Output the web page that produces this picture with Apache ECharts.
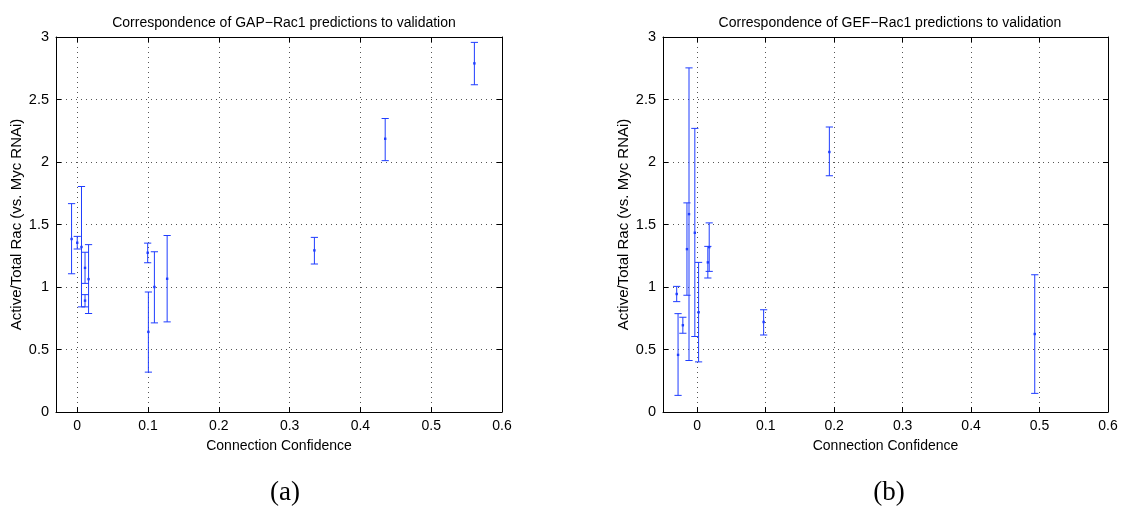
<!DOCTYPE html>
<html>
<head>
<meta charset="utf-8">
<script src="https://cdn.jsdelivr.net/npm/echarts@6/dist/echarts.min.js"></script>
<style>
html,body{margin:0;padding:0;background:#fff;}
#chart{width:1122px;height:510px;}
</style>
</head>
<body>
<div id="chart"></div>
<script>
// ---- Data ----
const gapTitle = 'Correspondence of GAP\u2212Rac1 predictions to validation';
const gefTitle = 'Correspondence of GEF\u2212Rac1 predictions to validation';
const xName = 'Connection Confidence';
const yName = 'Active/Total Rac (vs. Myc RNAi)';
const panelLabels = ['(a)', '(b)'];

const gapX    = [-0.008, 0.000, 0.006, 0.011, 0.011, 0.016, 0.0995, 0.1005, 0.109, 0.127, 0.335, 0.435, 0.561];
const gapY    = [ 1.384, 1.354, 1.320, 1.153, 0.891, 1.063, 1.274, 0.641, 1.000, 1.066, 1.293, 2.186, 2.789];
const gapLow  = [ 1.106, 1.304, 0.841, 1.029, 0.841, 0.788, 1.194, 0.319, 0.713, 0.721, 1.184, 2.011, 2.618];
const gapHigh = [ 1.667, 1.405, 1.804, 1.278, 0.939, 1.339, 1.351, 0.960, 1.282, 1.412, 1.397, 2.348, 2.957];

const gefX    = [-0.030, -0.028, -0.021, -0.015, -0.012, -0.0035, 0.002, 0.0155, 0.0175, 0.097, 0.193, 0.493];
const gefY    = [ 0.944, 0.457, 0.694, 1.303, 1.583, 1.434, 0.798, 1.197, 1.319, 0.720, 2.080, 0.624];
const gefLow  = [ 0.883, 0.133, 0.630, 0.934, 0.412, 0.604, 0.401, 1.072, 1.125, 0.616, 1.890, 0.149];
const gefHigh = [ 1.005, 0.787, 0.758, 1.673, 2.753, 2.269, 1.197, 1.325, 1.513, 0.818, 2.280, 1.098];

const xTicks = [0, 0.1, 0.2, 0.3, 0.4, 0.5, 0.6];
const yTicks = [0, 0.5, 1, 1.5, 2, 2.5, 3];

// ---- Chart ----
const BLUE = '#1f3dff';
const FONT = '"Liberation Sans", Arial, Helvetica, sans-serif';
const chart = echarts.init(document.getElementById('chart'), null, {renderer: 'canvas'});

function rows(xs, ys, lo, hi) { return xs.map((x, i) => [x, ys[i], lo[i], hi[i]]); }

function renderErr(params, api) {
  const x = api.value(0), y = api.value(1), lo = api.value(2), hi = api.value(3);
  const a = api.coord([x, lo]), b = api.coord([x, hi]), p = api.coord([x, y]);
  const hw = 3.6;
  const st = {stroke: BLUE, lineWidth: 1};
  return {type: 'group', children: [
    {type: 'line', shape: {x1: a[0], y1: a[1], x2: b[0], y2: b[1]}, style: st},
    {type: 'line', shape: {x1: a[0] - hw, y1: a[1], x2: a[0] + hw, y2: a[1]}, style: st},
    {type: 'line', shape: {x1: b[0] - hw, y1: b[1], x2: b[0] + hw, y2: b[1]}, style: st},
    {type: 'rect', shape: {x: p[0] - 1.2, y: p[1] - 1.2, width: 2.4, height: 2.4}, style: {fill: BLUE}}
  ]};
}

const gridLine = {show: true, lineStyle: {color: '#555', type: [1, 4], width: 1}};
const axisLine = {show: true, onZero: false, lineStyle: {color: '#000', width: 1}};
function tickIn(vals) { return {show: true, inside: true, length: 5, lineStyle: {color: '#000'}, customValues: vals}; }
function fmt(v) { return String(+(+v).toFixed(2)); }

function xAxes(gi, min) {
  return [
    {type: 'value', gridIndex: gi, position: 'bottom', min: min, max: 0.6,
     axisLine: axisLine, axisTick: tickIn(xTicks), splitLine: gridLine,
     axisLabel: {customValues: xTicks, formatter: fmt, color: '#000', fontSize: 14, fontFamily: FONT, margin: 7},
     name: xName, nameLocation: 'middle', nameGap: 27,
     nameTextStyle: {color: '#000', fontSize: 14, fontFamily: FONT}},
    {type: 'value', gridIndex: gi, position: 'top', min: min, max: 0.6,
     axisLine: axisLine, axisTick: tickIn(xTicks), splitLine: {show: false}, axisLabel: {show: false}}
  ];
}
function yAxes(gi) {
  return [
    {type: 'value', gridIndex: gi, position: 'left', min: 0, max: 3, interval: 0.5,
     axisLine: axisLine, axisTick: tickIn(yTicks), splitLine: gridLine,
     axisLabel: {customValues: yTicks, formatter: fmt, color: '#000', fontSize: 14.5, fontFamily: FONT, margin: 7},
     name: yName, nameLocation: 'middle', nameGap: 32,
     nameTextStyle: {color: '#000', fontSize: 15, fontFamily: FONT}},
    {type: 'value', gridIndex: gi, position: 'right', min: 0, max: 3, interval: 0.5,
     axisLine: axisLine, axisTick: tickIn(yTicks), splitLine: {show: false}, axisLabel: {show: false}}
  ];
}

chart.setOption({
  animation: false,
  backgroundColor: '#fff',
  title: [
    {text: gapTitle, left: 279, top: 11, textAlign: 'center',
     textStyle: {fontSize: 14, fontWeight: 'normal', color: '#000', fontFamily: FONT}},
    {text: gefTitle, left: 885, top: 11, textAlign: 'center',
     textStyle: {fontSize: 14, fontWeight: 'normal', color: '#000', fontFamily: FONT}},
    {text: panelLabels[0], left: 280, top: 474, textAlign: 'center',
     textStyle: {fontSize: 27, fontWeight: 'normal', color: '#000', fontFamily: '"Liberation Serif", "DejaVu Serif", serif'}},
    {text: panelLabels[1], left: 884, top: 474, textAlign: 'center',
     textStyle: {fontSize: 27, fontWeight: 'normal', color: '#000', fontFamily: '"Liberation Serif", "DejaVu Serif", serif'}}
  ],
  grid: [
    {left: 56, top: 37, width: 446, height: 375},
    {left: 663, top: 37, width: 445, height: 375}
  ],
  xAxis: xAxes(0, -0.03).concat(xAxes(1, -0.05)),
  yAxis: yAxes(0).concat(yAxes(1)),
  series: [
    {type: 'custom', xAxisIndex: 0, yAxisIndex: 0, renderItem: renderErr,
     data: rows(gapX, gapY, gapLow, gapHigh), clip: false},
    {type: 'custom', xAxisIndex: 2, yAxisIndex: 2, renderItem: renderErr,
     data: rows(gefX, gefY, gefLow, gefHigh), clip: false}
  ]
});
</script>
</body>
</html>
